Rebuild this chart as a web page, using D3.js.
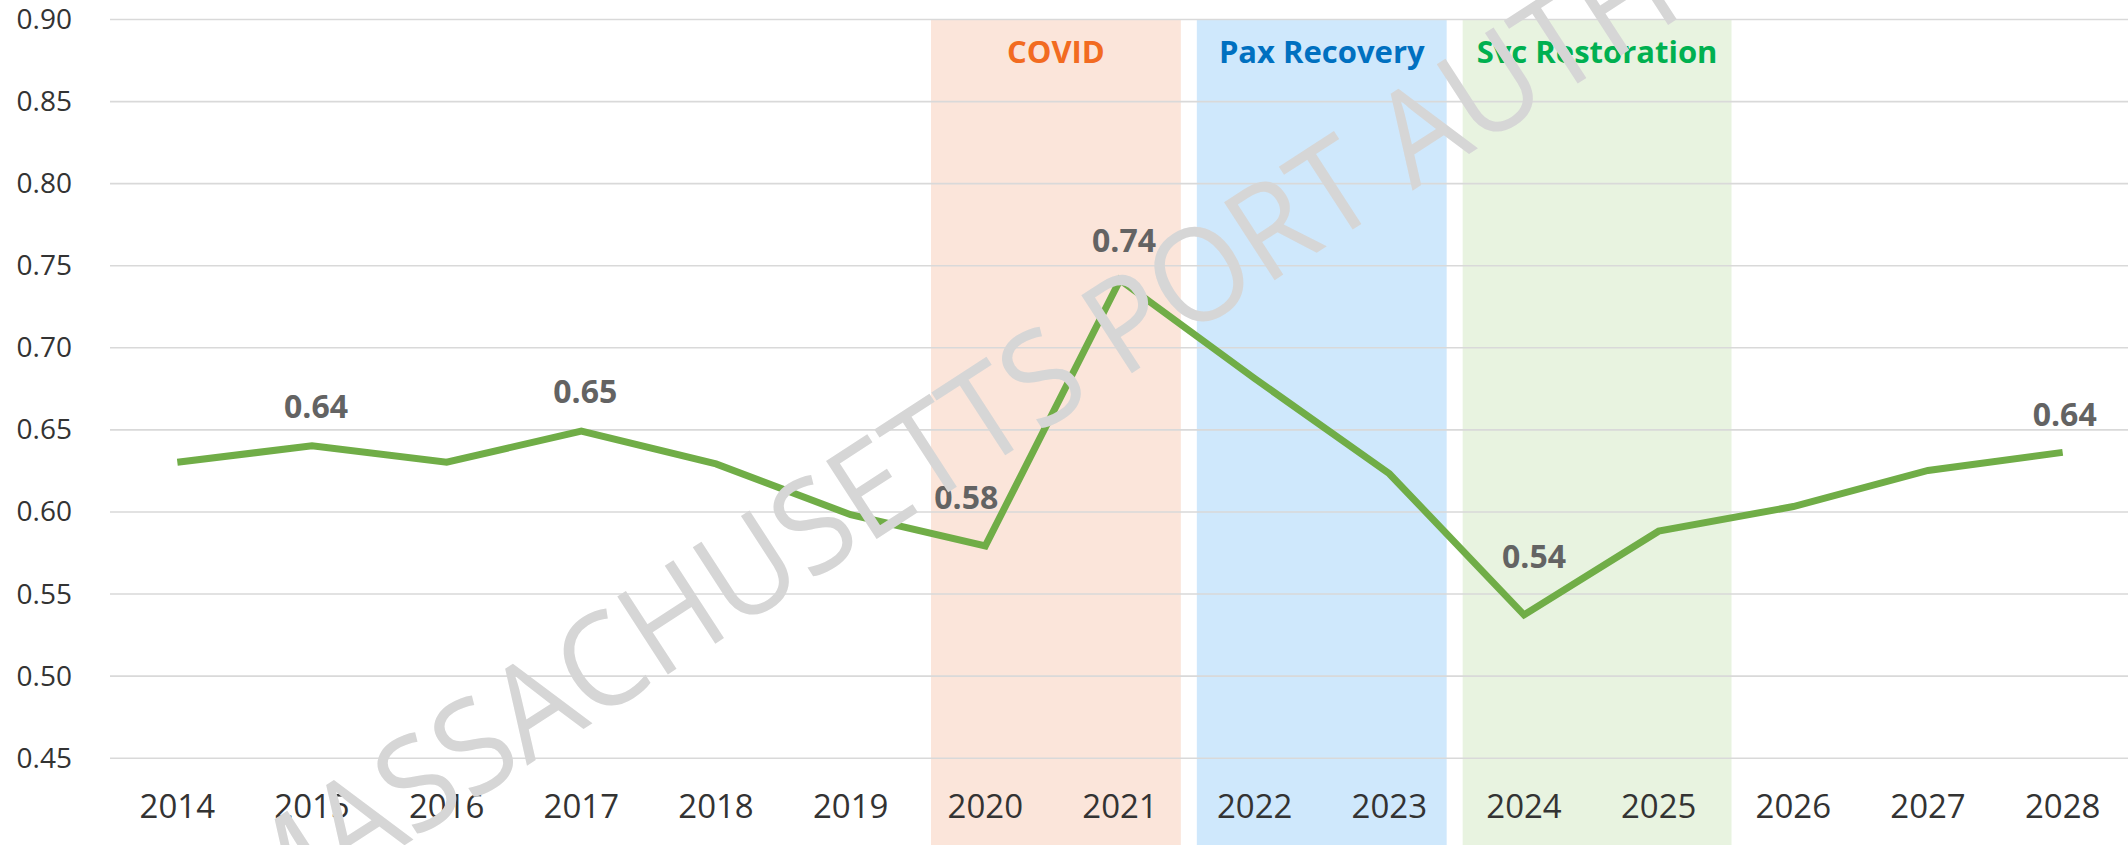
<!DOCTYPE html>
<html>
<head>
<meta charset="utf-8">
<script src="https://cdn.jsdelivr.net/npm/d3@7"></script>
<style>
  html, body { margin: 0; padding: 0; background: #ffffff; }
  svg { display: block; }
</style>
</head>
<body>
<svg id="chart" width="2128" height="845"></svg>
<script>
// ---------------- data ----------------
const years = ["2014","2015","2016","2017","2018","2019","2020","2021","2022","2023","2024","2025","2026","2027","2028"];
const ratio = [0.630, 0.640, 0.630, 0.649, 0.629, 0.598, 0.579, 0.741, 0.681, 0.623, 0.537, 0.588, 0.603, 0.625, 0.636];
const labeledYears = ["2015","2017","2020","2021","2024","2028"];
const yTicks = [0.45, 0.50, 0.55, 0.60, 0.65, 0.70, 0.75, 0.80, 0.85, 0.90];
const phaseNames = ["COVID", "Pax Recovery", "Svc Restoration"];
const phaseFrom = ["2020", "2022", "2024"];
const phaseTo = ["2021", "2023", "2025"];

// ---------------- styles / layout ----------------
const W = 2128, H = 845;
const plot = { left: 110, right: 2130, top: 19, bottom: 757.7 };
const phaseFill = ["#FBE5DA", "#CFE8FC", "#E8F3E0"];
const phaseText = ["#F26B21", "#0070C0", "#00B050"];
const phaseInsetL = [13, 9.5, 6];
const phaseInsetR = [6.5, 10, -5.5];
const labelOffset = { "2020": [-19, -37], "2024": [10, -47], "2028": [2, -26] };
const defaultOffset = [4, -28];
const FONT = "'Open Sans', 'Noto Sans', sans-serif";

const svg = d3.select("#chart");

const x = d3.scaleBand().domain(years).range([plot.left, plot.right]).padding(0);
const y = d3.scaleLinear().domain([0.45, 0.90]).range([plot.bottom, plot.top]);
const cx = d => x(d) + x.bandwidth() / 2;

// phase bands
const phases = phaseNames.map((n, i) => ({ name: n, from: phaseFrom[i], to: phaseTo[i], i }));
svg.append("g").selectAll("rect").data(phases).join("rect")
  .attr("x", d => x(d.from) + phaseInsetL[d.i])
  .attr("width", d => x(d.to) + x.bandwidth() - phaseInsetR[d.i] - (x(d.from) + phaseInsetL[d.i]))
  .attr("y", y(0.90))
  .attr("height", H - y(0.90))
  .attr("fill", d => phaseFill[d.i]);

// gridlines + y labels
const yAxis = d3.axisLeft(y).tickValues(yTicks).tickFormat(d3.format(".2f")).tickSize(0).tickPadding(0);
const gy = svg.append("g").attr("transform", `translate(${plot.left},0)`).call(yAxis);
gy.select(".domain").remove();
gy.selectAll(".tick line").attr("x2", W - plot.left).attr("stroke", "#D9D9D9").attr("stroke-width", 1.6);
gy.selectAll(".tick text")
  .attr("x", 72 - plot.left)
  .attr("dy", "0.34em")
  .attr("fill", "#333333")
  .style("font-family", FONT)
  .style("font-size", "28px")
  .attr("text-anchor", "end");

// phase labels
svg.append("g").selectAll("text").data(phases).join("text")
  .attr("x", d => (x(d.from) + phaseInsetL[d.i] + x(d.to) + x.bandwidth() - phaseInsetR[d.i]) / 2)
  .attr("y", 63)
  .attr("text-anchor", "middle")
  .attr("fill", d => phaseText[d.i])
  .style("font-family", FONT)
  .style("font-weight", "700")
  .style("font-size", "31px")
  .text(d => d.name);

// x axis labels
const xAxis = d3.axisBottom(x).tickSize(0).tickPadding(0);
const gx = svg.append("g").attr("transform", `translate(0,${plot.bottom})`).call(xAxis);
gx.select(".domain").remove();
gx.selectAll(".tick text")
  .attr("y", 818 - plot.bottom)
  .attr("dy", 0)
  .attr("fill", "#333333")
  .style("font-family", FONT)
  .style("font-size", "33px");

// line
const pts = years.map((yr, i) => ({ yr, v: ratio[i] }));
svg.append("path")
  .datum(pts)
  .attr("fill", "none")
  .attr("stroke", "#70AD47")
  .attr("stroke-width", 7)
  .attr("stroke-linejoin", "miter")
  .attr("d", d3.line().x(d => cx(d.yr)).y(d => y(d.v)));

// data labels
svg.append("g").selectAll("text").data(pts.filter(p => labeledYears.includes(p.yr))).join("text")
  .attr("x", d => cx(d.yr) + (labelOffset[d.yr] || defaultOffset)[0])
  .attr("y", d => y(d.v) + (labelOffset[d.yr] || defaultOffset)[1])
  .attr("text-anchor", "middle")
  .attr("fill", "#636363")
  .style("font-family", FONT)
  .style("font-weight", "700")
  .style("font-size", "32px")
  .text(d => d3.format(".2f")(d.v));

// watermark
svg.append("text")
  .attr("transform", "translate(1115,384) rotate(-33) scale(0.95,1)")
  .attr("text-anchor", "middle")
  .attr("fill", "#D6D6D6")
  .style("font-family", FONT)
  .style("font-weight", "380")
  .style("font-size", "130px")
  .text("MASSACHUSETTS PORT AUTHORITY");
</script>
</body>
</html>
